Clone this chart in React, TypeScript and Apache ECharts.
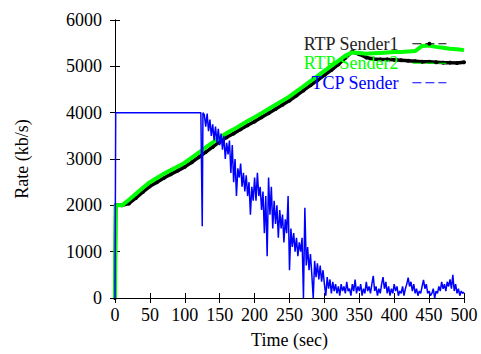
import React, { useEffect, useRef } from "react";
import * as echarts from "echarts";

const seriesNames = ["RTP Sender1", "RTP Sender2", "TCP Sender"];

// RTP Sender1 (black): [time, rate]
const rtp1: [number, number][] = [
  [0, 0], [1, 2000], [10, 2000], [20, 2040], [30, 2160], [40, 2290], [50, 2410], [60, 2500],
  [70, 2590], [80, 2670], [90, 2750], [100, 2830], [110, 2930], [120, 3040], [130, 3150],
  [140, 3260], [150, 3370], [160, 3470], [170, 3550], [180, 3640], [190, 3730], [200, 3810],
  [210, 3900], [220, 3990], [230, 4080], [240, 4170], [250, 4260], [260, 4370], [270, 4480],
  [280, 4590], [290, 4700], [300, 4810], [310, 4920], [320, 5040], [330, 5180], [340, 5320],
  [350, 5260], [360, 5190], [370, 5160], [380, 5150], [390, 5150], [400, 5140], [410, 5130],
  [420, 5120], [430, 5110], [440, 5100], [450, 5100], [460, 5090], [470, 5080], [480, 5080],
  [490, 5070], [500, 5090],
];

// RTP Sender2 (green): [time, rate]
const rtp2: [number, number][] = [
  [0, 0], [1, 2000], [10, 2000], [20, 2120], [30, 2250], [40, 2380], [50, 2500], [60, 2590],
  [70, 2680], [80, 2760], [90, 2840], [100, 2920], [110, 3030], [120, 3140], [130, 3250],
  [140, 3360], [150, 3460], [160, 3560], [170, 3640], [180, 3730], [190, 3820], [200, 3900],
  [210, 3990], [220, 4080], [230, 4170], [240, 4260], [250, 4350], [260, 4460], [270, 4570],
  [280, 4680], [290, 4790], [300, 4900], [310, 5010], [320, 5120], [330, 5230], [340, 5300],
  [350, 5290], [360, 5270], [370, 5280], [380, 5290], [390, 5300], [400, 5310], [410, 5310],
  [420, 5320], [430, 5330], [440, 5440], [450, 5450], [460, 5420], [470, 5400], [480, 5380],
  [490, 5370], [500, 5350],
];

// TCP Sender (blue): start-up segment [time, rate]
const tcpStart: [number, number][] = [
  [0, 0], [1, 4000], [123, 4000], [125, 1550], [126, 4000],
];
// TCP Sender noisy part, sampled every 2 s from t = 128 s
const tcpNoiseStartTime = 128;
const tcpNoiseStep = 2;
const tcpNoise: number[] = [
  3950, 3700, 3980, 3600, 3850, 3500, 3750, 3400, 3700, 3350,
  3650, 3300, 3550, 3200, 3500, 3000, 3350, 3100, 3400, 2700,
  3300, 2500, 3000, 2200, 2800, 2600, 2900, 2400, 2700, 2300,
  2650, 2200, 2500, 1800, 2400, 2100, 2600, 2100, 2700, 2200,
  2400, 1900, 2300, 1400, 2200, 900, 2600, 1800, 2400, 1500,
  2100, 1600, 2000, 1300, 1900, 1500, 1800, 1200, 1700, 1400,
  2200, 600, 1500, 1100, 1400, 1000, 1300, 900, 1200, 1000,
  1300, 0, 1950, 700, 1100, 600, 950, 500, 0, 800,
  450, 750, 400, 700, 350, 600, 300, 50, 450, 200,
  400, 100, 350, 150, 300, 100, 250, 50, 300, 150,
  250, 100, 350, 150, 200, 50, 300, 150, 400, 100,
  250, 150, 300, 50, 200, 100, 350, 150, 250, 100,
  300, 480, 150, 250, 50, 200, 100, 300, 450, 200,
  350, 100, 250, 50, 200, 100, 300, 150, 250, 50,
  150, 100, 250, 50, 200, 300, 440, 250, 350, 150,
  300, 100, 200, 50, 150, 100, 250, 390, 200, 300,
  100, 150, 50, 100, 200, 0, 150, 100, 250, 150,
  350, 200, 300, 150, 350, 250, 400, 200, 500, 150,
  300, 100, 200, 50, 150, 100, 130,
];

const xTicks = { min: 0, max: 500, interval: 50 };
const yTicks = { min: 0, max: 6000, interval: 1000 };

const FONT = "'Liberation Serif', 'DejaVu Serif', serif";

export default function App() {
  const ref = useRef<HTMLDivElement>(null);
  useEffect(() => {
    if (!ref.current) return;
    const chart = echarts.init(ref.current, undefined, { renderer: "svg" });
    const tcp: [number, number][] = tcpStart.concat(
      tcpNoise.map((v, i) => [tcpNoiseStartTime + i * tcpNoiseStep, v] as [number, number])
    );
    const axisLine = { show: true, lineStyle: { color: "#000", width: 1 } };
    const tick = { show: true, inside: true, length: 5, lineStyle: { color: "#000" } };
    const label = { color: "#000", fontFamily: FONT, fontSize: 18 };
    const plain = (v: number) => String(v);
    const keyDash = { type: [9, 4] as number[], width: 1.2 };
    chart.setOption({
      animation: false,
      backgroundColor: "#fff",
      grid: { left: 115, top: 20, right: 17, bottom: 48, containLabel: false },
      xAxis: [
        {
          type: "value", ...xTicks, position: "bottom",
          name: "Time (sec)", nameLocation: "middle", nameGap: 33,
          nameTextStyle: { ...label },
          axisLine, axisTick: tick, splitLine: { show: false },
          axisLabel: { ...label, margin: 8, formatter: plain },
        },
        {
          type: "value", ...xTicks, position: "top",
          axisLine, axisTick: tick, splitLine: { show: false }, axisLabel: { show: false },
        },
      ],
      yAxis: [
        {
          type: "value", ...yTicks, position: "left",
          name: "Rate (kb/s)", nameLocation: "middle", nameGap: 84, nameRotate: 90,
          nameTextStyle: { ...label },
          axisLine, axisTick: tick, splitLine: { show: false },
          axisLabel: { ...label, margin: 13, formatter: plain },
        },
        {
          type: "value", ...yTicks, position: "right",
          axisLine, axisTick: tick, splitLine: { show: false }, axisLabel: { show: false },
        },
      ],
      legend: {
        orient: "vertical",
        right: 29,
        top: 29,
        align: "right",
        itemGap: 0,
        itemWidth: 34,
        itemHeight: 5,
        textStyle: { fontFamily: FONT, fontSize: 18, lineHeight: 19.5, padding: [0, 9, 0, 0] },
        data: [
          { name: seriesNames[0], textStyle: { color: "#222" }, lineStyle: keyDash },
          { name: seriesNames[1], textStyle: { color: "#00ff00" }, lineStyle: keyDash, itemStyle: { opacity: 0 } },
          { name: seriesNames[2], textStyle: { color: "#0000ff" }, lineStyle: keyDash, itemStyle: { opacity: 0 } },
        ],
      },
      series: [
        {
          name: seriesNames[0], type: "line", data: rtp1,
          lineStyle: { color: "#000", width: 3.5 },
          itemStyle: { color: "#000" },
          symbol: "circle", symbolSize: 4, showSymbol: true, showAllSymbol: true,
          z: 2,
        },
        {
          name: seriesNames[1], type: "line", data: rtp2,
          lineStyle: { color: "#00ff00", width: 4 },
          itemStyle: { color: "#00ff00" },
          symbol: "none",
          z: 3,
        },
        {
          name: seriesNames[2], type: "line", data: tcp,
          lineStyle: { color: "#0000ff", width: 1.5 },
          itemStyle: { color: "#0000ff" },
          symbol: "none",
          z: 4,
        },
      ],
    });
    return () => chart.dispose();
  }, []);
  return <div ref={ref} style={{ width: 481, height: 354, position: "absolute", left: 0, top: 0 }} />;
}
